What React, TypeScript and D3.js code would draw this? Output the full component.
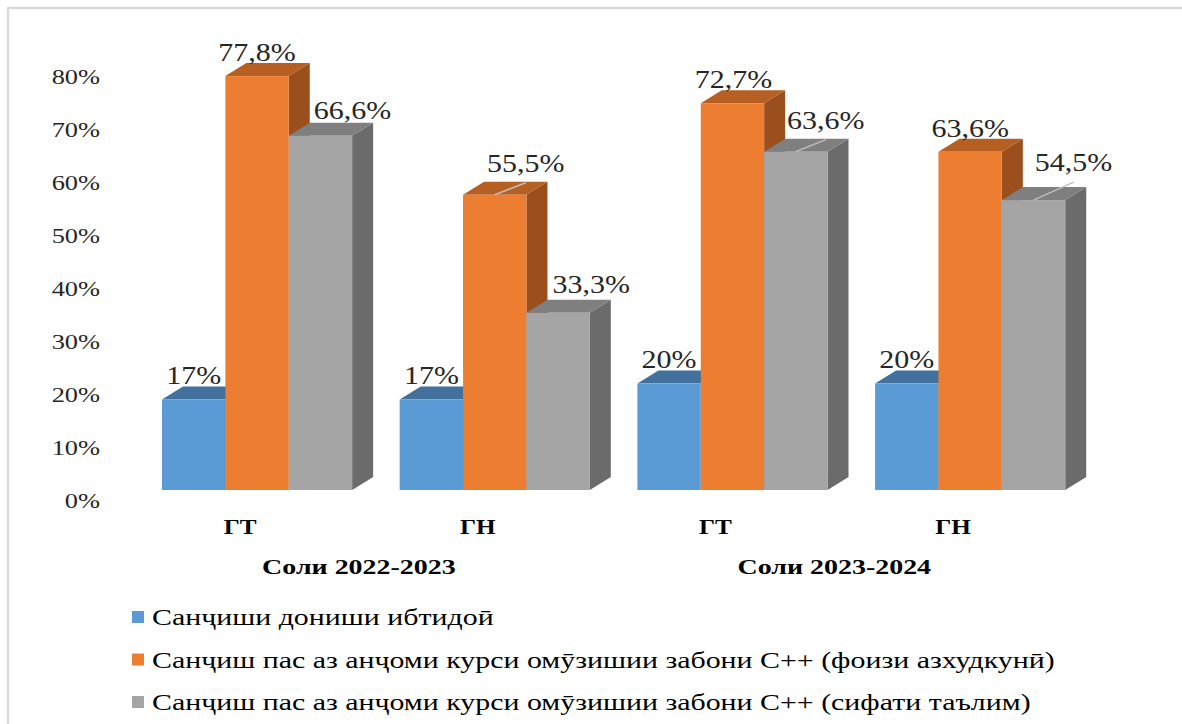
import React from "react";
import * as d3 from "d3";

const categories = ["ГТ", "ГН", "ГТ", "ГН"];
const yearGroups = ["Соли 2022-2023", "Соли 2023-2024"];
const seriesNames = [
  "Санҷиши дониши ибтидоӣ",
  "Санҷиш пас аз анҷоми курси омӯзишии забони С++ (фоизи азхудкунӣ)",
  "Санҷиш пас аз анҷоми курси омӯзишии забони С++ (сифати таълим)",
];
const seriesBlue = [0.17, 0.17, 0.2, 0.2];
const seriesOrange = [0.778, 0.555, 0.727, 0.636];
const seriesGray = [0.666, 0.333, 0.636, 0.545];
const yTicks = [0, 0.1, 0.2, 0.3, 0.4, 0.5, 0.6, 0.7, 0.8];

// label placement nudges [series][category]: dx, dy, leader
const labelNudges = [
  [[0, -3, 0], [0, -3, 0], [0, -3, 0], [0, -3, 0]],
  [[0, -2, 0], [31, -10, 1], [1, -2, 0], [0, -2, 0]],
  [[32, -4, 0], [33, -7, 0], [30, -10, 1], [40, -16, 1]],
];

const colors = [
  { front: "#5b9bd5", top: "#41719c", side: "#35618a" },
  { front: "#ed7d31", top: "#b55f23", side: "#9a4f1c" },
  { front: "#a5a5a5", top: "#7f7f7f", side: "#6b6b6b" },
];

const SX = 1.2;
const FONT = "'Liberation Serif', 'Times New Roman', serif";

function fmt(v: number) {
  const p = Math.round(v * 1000) / 10;
  return Number.isInteger(p) ? `${p}%` : `${p.toFixed(1).replace(".", ",")}%`;
}

export default function App() {
  const W = 1182, H = 724;
  const data = [seriesBlue, seriesOrange, seriesGray];
  const x0 = d3.scaleBand<number>().domain(d3.range(categories.length)).range([138.2, 1089]).paddingInner(0.2).paddingOuter(0.1);
  const x1 = d3.scaleBand<number>().domain(d3.range(data.length)).range([0, x0.bandwidth()]);
  const y = d3.scaleLinear().domain([0, 0.8]).range([490, 64.4]);
  const yAxis = d3.scaleLinear().domain([0, 0.8]).range([500, 76]);
  const dx = 21, dy = 13;

  const bars: React.ReactNode[] = [];
  const labels: React.ReactNode[] = [];
  categories.forEach((c, ci) => {
    data.forEach((s, si) => {
      const v = s[ci];
      const xl = (x0(ci) as number) + (x1(si) as number);
      const w = x1.bandwidth();
      const yt = y(v), yb = y(0);
      const col = colors[si];
      bars.push(
        <g key={`b${ci}-${si}`}>
          <polygon points={`${xl + w},${yb} ${xl + w + dx},${yb - dy} ${xl + w + dx},${yt - dy} ${xl + w},${yt}`} fill={col.side} />
          <polygon points={`${xl},${yt} ${xl + dx},${yt - dy} ${xl + w + dx},${yt - dy} ${xl + w},${yt}`} fill={col.top} />
          <rect x={xl} y={yt} width={w} height={yb - yt} fill={col.front} />
        </g>
      );
      const [ndx, ndy, leader] = labelNudges[si][ci];
      const cx = xl + w / 2;
      const lx = cx + ndx;
      const ly = yt - dy + ndy;
      if (leader) {
        labels.push(<line key={`l${ci}-${si}`} x1={cx} y1={yt} x2={lx} y2={ly + 11} stroke="#bfbfbf" strokeWidth={1.5} />);
      }
      labels.push(
        <text key={`t${ci}-${si}`} transform={`translate(${lx},${ly}) scale(${SX},1)`} textAnchor="middle" fontSize={25} fill="#262626" fontFamily={FONT}>
          {fmt(v)}
        </text>
      );
    });
  });

  return (
    <svg width={W} height={H} style={{ position: "absolute", left: 0, top: 0, background: "#fff" }}>
      <rect x={8} y={8} width={1300} height={900} fill="#fff" stroke="#d9d9d9" strokeWidth={2.5} />
      {yTicks.map((t) => (
        <text key={t} transform={`translate(100,${yAxis(t)}) scale(${SX},1)`} dy="0.35em" textAnchor="end" fontSize={22} fill="#262626" fontFamily={FONT}>
          {`${Math.round(t * 100)}%`}
        </text>
      ))}
      {bars}
      {labels}
      {categories.map((c, ci) => (
        <text key={`c${ci}`} transform={`translate(${(x0(ci) as number) + x0.bandwidth() / 2 - 17},527) scale(${SX},1)`} dy="0.35em" textAnchor="middle" fontSize={21} fontWeight="bold" fill="#000" fontFamily={FONT}>
          {c}
        </text>
      ))}
      {yearGroups.map((g, gi) => {
        const a = (x0(gi * 2) as number) + x0.bandwidth() / 2;
        const b = (x0(gi * 2 + 1) as number) + x0.bandwidth() / 2;
        return (
          <text key={`g${gi}`} transform={`translate(${(a + b) / 2 - 17},566) scale(1.3,1)`} dy="0.35em" textAnchor="middle" fontSize={21.5} fontWeight="bold" fill="#000" fontFamily={FONT}>
            {g}
          </text>
        );
      })}
      {seriesNames.map((n, i) => (
        <g key={`lg${i}`} transform={`translate(0,${617 + i * 42.5})`}>
          <rect x={132} y={-6} width={12} height={12} fill={colors[i].front} />
          <text transform={`translate(152,0) scale(1.3,1)`} dy="0.35em" fontSize={23} fill="#000" fontFamily={FONT}>
            {n}
          </text>
        </g>
      ))}
    </svg>
  );
}
